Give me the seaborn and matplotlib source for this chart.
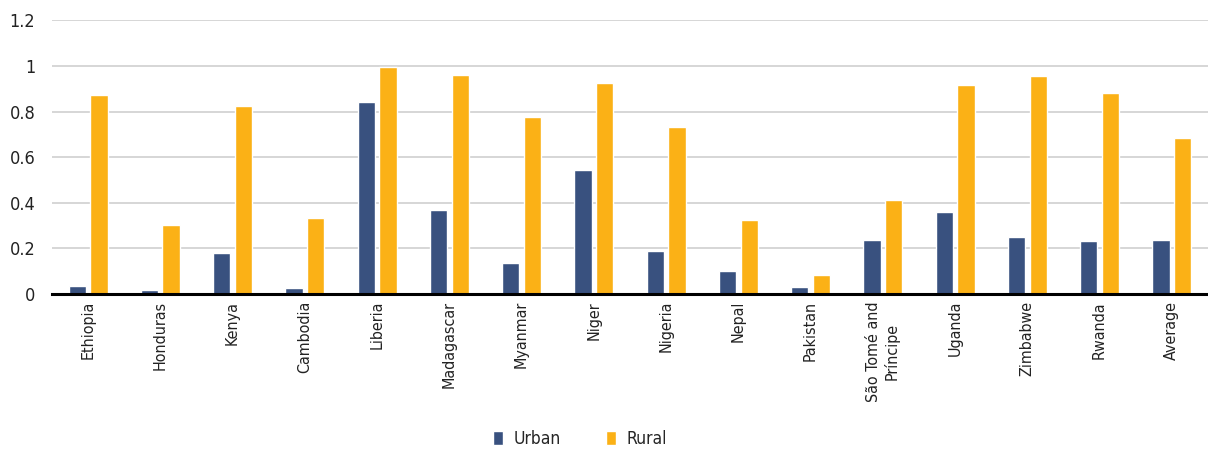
import matplotlib
matplotlib.use("Agg")
import matplotlib.pyplot as plt
import seaborn as sns
import pandas as pd
from matplotlib.patches import Patch

countries = ["Ethiopia", "Honduras", "Kenya", "Cambodia", "Liberia", "Madagascar",
             "Myanmar", "Niger", "Nigeria", "Nepal", "Pakistan",
             "São Tomé and\nPríncipe", "Uganda", "Zimbabwe", "Rwanda", "Average"]
urban = [0.035, 0.02, 0.178, 0.025, 0.842, 0.368, 0.138, 0.542, 0.188, 0.1,
         0.03, 0.239, 0.358, 0.248, 0.233, 0.239]
rural = [0.874, 0.302, 0.824, 0.332, 0.994, 0.962, 0.776, 0.924, 0.732, 0.324,
         0.084, 0.412, 0.918, 0.956, 0.88, 0.684]
series = ["Urban", "Rural"]
colors = ["#39517F", "#FBB116"]
yticks = [0, 0.2, 0.4, 0.6, 0.8, 1, 1.2]

df = pd.DataFrame({
    "country": countries * 2,
    "value": urban + rural,
    "series": [series[0]] * len(countries) + [series[1]] * len(countries),
})

sns.set_theme(style="white")
plt.rcParams["font.family"] = ["DejaVu Sans"]
plt.rcParams["font.stretch"] = "condensed"

fig = plt.figure(figsize=(12.08, 4.49), dpi=100)
ax = fig.add_axes([0.043, 0.345, 0.957, 0.61])

sns.barplot(data=df, x="country", y="value", hue="series", palette=colors,
            width=0.6, gap=0.2, ax=ax, legend=False, saturation=1)

ax.set_ylim(0, 1.2)
ax.set_xlim(-0.5, len(countries) - 0.5)
ax.set_yticks(yticks)
ax.set_yticklabels([f"{t:g}" for t in yticks], fontsize=13, color="#222222",
                   fontstretch="condensed")
ax.set_xticks(range(len(countries)))
ax.set_xticklabels(countries, rotation=90, fontsize=11.5, color="#222222",
                   va="top", ha="center", multialignment="center",
                   fontstretch="condensed")
ax.tick_params(axis="x", length=0, pad=5)
ax.tick_params(axis="y", length=0, pad=12)
ax.set_xlabel("")
ax.set_ylabel("")
ax.yaxis.grid(True, color="#CFCFCF", linewidth=1.2)
ax.set_axisbelow(True)
for s in ["left", "right", "top"]:
    ax.spines[s].set_visible(False)
ax.spines["bottom"].set_color("black")
ax.spines["bottom"].set_linewidth(2.2)
ax.spines["bottom"].set_zorder(5)

handles = [Patch(facecolor=c, label=l) for c, l in zip(colors, series)]
leg = fig.legend(handles=handles, loc="lower center", bbox_to_anchor=(0.48, -0.033),
                 ncol=2, frameon=False, fontsize=12.5, handlelength=0.6,
                 handleheight=0.9, columnspacing=2.6, handletextpad=0.6)
for t in leg.get_texts():
    t.set_fontstretch("condensed")

fig.savefig("out.png", dpi=100)
